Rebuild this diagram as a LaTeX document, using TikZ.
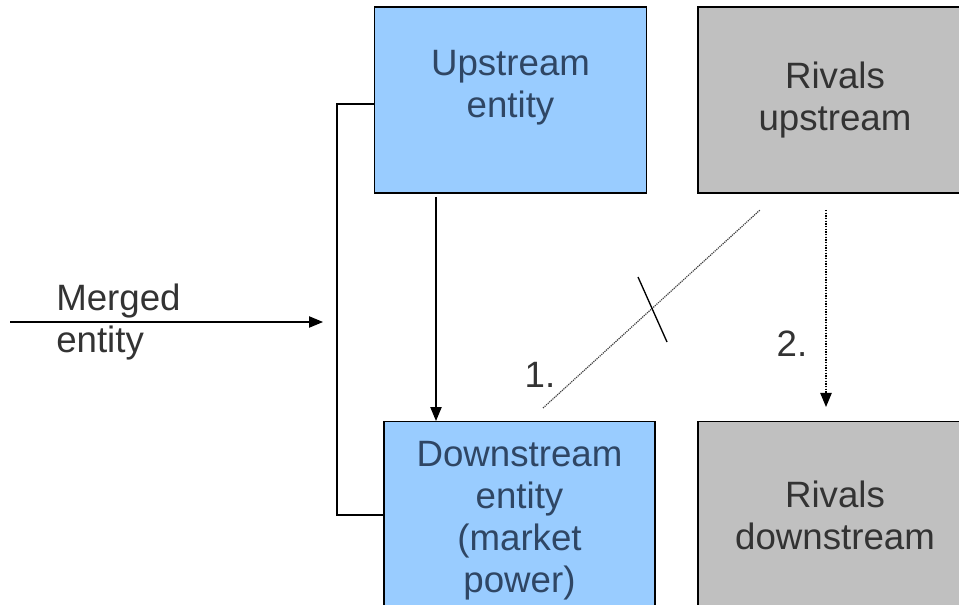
\documentclass[tikz,border=0pt]{standalone}
\usepackage{fontspec}
\setmainfont{Liberation Sans}
\usetikzlibrary{arrows.meta}
\definecolor{boxblue}{HTML}{99CCFF}
\definecolor{boxgray}{HTML}{C0C0C0}
\definecolor{txtblue}{HTML}{2F4664}
\definecolor{txtgray}{HTML}{333333}
\begin{document}
\begin{tikzpicture}[x=0.75pt,y=-0.75pt,
        ent/.style={draw=black,line width=1.1pt,inner sep=0pt,minimum height=139.5pt,align=center,font=\fontsize{27.5}{31.5}\selectfont},
        merged/.style={ent,fill=boxblue,text=txtblue,minimum width=204pt},
        rival/.style={ent,fill=boxgray,text=txtgray,minimum width=205.5pt},
        lbl/.style={font=\fontsize{27.5}{31.5}\selectfont,text=txtgray,inner sep=0pt,align=left},
        arr/.style={line width=0.9pt,-{Triangle[length=10.5pt,width=8.5pt]}}]
        \useasboundingbox (0,0) rectangle (959,605);

        \node[merged] (up) at (510.5,100) {};
        \node[lbl,text=txtblue,align=center] (uptext) at (510.5,88) {Upstream\\entity};
        \node[rival] (rup) at (835,100) {Rivals\\upstream};

        \node[merged,minimum width=203pt,minimum height=148pt,anchor=north] (down) at (519.5,421) {Downstream\\entity\\(market\\power)};
        \node[rival,minimum height=141pt,anchor=north] (rdown) at (835,421) {Rivals\\downstream};

        \node[lbl,anchor=west] (mtext) at (56,322) {Merged\\entity};
        \node[lbl] (one) at (540,375) {1.};
        \node[lbl] (two) at (792,344) {2.};

        \coordinate (min) at (10,322);
        \coordinate (mout) at (323,322);
        \coordinate (ua) at (436,197);
        \coordinate (d1) at (543,408);
        \coordinate (d2) at (760,210);
        \coordinate (t1) at (638,277);
        \coordinate (t2) at (667,342);
        \coordinate (ra) at (826,210);
        \coordinate (rb) at (826,407);

        \draw[line width=1.1pt] ([yshift=-3pt]up.west) -- ++(-37,0) |- ([yshift=4pt]down.west);
        \draw[arr] (min) -- (mout);
        \draw[arr] (ua) -- (ua |- down.north);
        \draw[black!75,line width=0.9pt,dash pattern=on 0.9pt off 0.7pt] (d1) -- (d2);
        \draw[line width=1pt] (t1) -- (t2);
        \draw[arr,dash pattern=on 1pt off 1pt] (ra) -- (rb);
    \end{tikzpicture}
\end{document}
